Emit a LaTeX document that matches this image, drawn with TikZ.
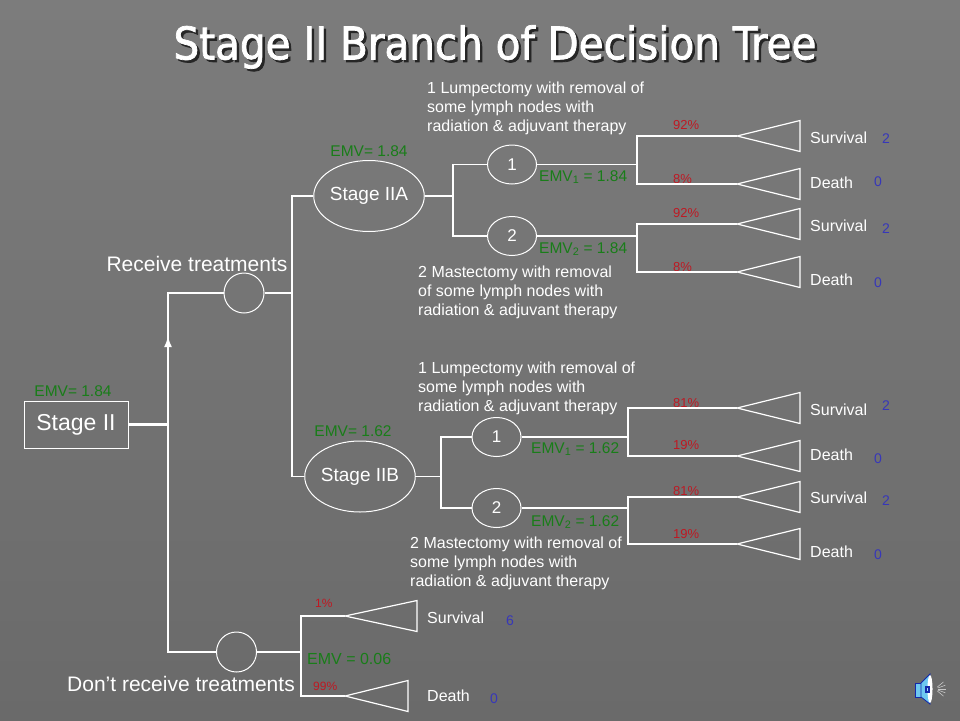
\documentclass[tikz,border=0pt]{standalone}
\usepackage{fontspec}
\setmainfont{Liberation Sans}
\newfontfamily\titlefont[FakeBold=1.6]{DejaVu Sans Condensed}
\usetikzlibrary{shapes.geometric,arrows.meta}

\definecolor{slate}{RGB}{124,124,124}
\definecolor{slatedark}{RGB}{106,106,106}
\definecolor{emvgreen}{RGB}{25,125,25}
\definecolor{pctred}{RGB}{190,25,35}
\definecolor{valblue}{RGB}{55,55,185}
\definecolor{spkblue}{RGB}{20,40,170}
\definecolor{spkcyan}{RGB}{110,200,240}

\tikzset{
  wire/.style={draw=white,line width=1.2pt},
  stagebox/.style={draw=white,line width=1pt,text=white,minimum width=104pt,minimum height=47pt,inner sep=0pt,font=\fontsize{23}{23}\selectfont},
  stageoval/.style={ellipse,draw=white,line width=1pt,text=white,minimum width=96pt,minimum height=71pt,inner sep=0pt,font=\fontsize{19}{19}\selectfont},
  choice/.style={ellipse,draw=white,line width=1pt,text=white,minimum width=49pt,minimum height=39pt,inner sep=0pt,font=\fontsize{17}{17}\selectfont},
  chance/.style={circle,draw=white,line width=1pt,minimum size=40pt,inner sep=0pt},
  emv/.style={text=emvgreen,inner sep=0pt,font=\fontsize{15.5}{15.5}\selectfont},
  pct/.style={text=pctred,inner sep=0pt,anchor=west,font=\fontsize{13}{13}\selectfont},
  val/.style={text=valblue,inner sep=0pt,anchor=west,font=\fontsize{14}{14}\selectfont},
  outcome/.style={text=white,inner sep=0pt,anchor=west,font=\fontsize{16}{16}\selectfont},
  branch/.style={text=white,inner sep=0pt,font=\fontsize{21}{21}\selectfont},
  note/.style={text=white,inner sep=0pt,anchor=north west,align=left,font=\fontsize{16}{19}\selectfont},
  headline/.style={inner sep=0pt,font=\titlefont\fontsize{45}{45}\selectfont},
}

\begin{document}
\begin{tikzpicture}[x=1pt,y=-1pt]
  \useasboundingbox (0,0) rectangle (960,720);
  \shade[top color=slate,bottom color=slatedark] (0,0) rectangle (960,720);

  % title
  \node[headline,text=black!85] (titleshadow) at (497.5,49.5) {Stage II Branch of Decision Tree};
  \node[headline,text=white] (title) at (495,47) {Stage II Branch of Decision Tree};

  % root and the two chance nodes
  \node[stagebox] (st2) at (76,424.5) {Stage II};
  \node[emv] (st2emv) at (73,391) {EMV= 1.84};
  \node[chance] (rc) at (244,293) {};
  \node[chance] (nrc) at (236.5,652) {};
  \node[branch] (rclbl) at (197,264) {Receive treatments};
  \node[branch] (nrclbl) at (181,684) {Don’t receive treatments};
  \coordinate (fork) at (168,424);
  \coordinate (tip) at (168,336);
  \draw[wire] (rc) -| (fork) |- (nrc);
  \draw[white,line width=2.5pt,-{Latex[length=11pt,width=8pt]}] (st2) -| (tip);

  % receive treatments
  \coordinate (jr) at (292,293);
  \node[stageoval] (s2a) at (369,196) {Stage IIA};
  \node[stageoval] (s2b) at (360,476.5) {Stage IIB};
  \node[emv] (s2aemv) at (369,151) {EMV= 1.84};
  \node[emv] (s2bemv) at (353,431) {EMV= 1.62};
  \draw[wire] (rc) -- (jr);
  \draw[wire] (s2a) -| (jr) |- (s2b);

  % stage IIA options
  \coordinate (ja) at (453,196);
  \node[choice] (c1a) at (512,164.5) {1};
  \node[choice] (c2a) at (512,236) {2};
  \draw[wire] (s2a) -- (ja);
  \draw[wire] (c1a) -| (ja) |- (c2a);
  \node[emv,anchor=west] (e1a) at (539,177) {EMV\textsubscript{1} = 1.84};
  \node[emv,anchor=west] (e2a) at (539,249) {EMV\textsubscript{2} = 1.84};
  \node[note] (n1a) at (427,82) {1 Lumpectomy with removal of\\some lymph nodes with\\radiation \& adjuvant therapy};
  \node[note] (n2a) at (418,266) {2 Mastectomy with removal\\of some lymph nodes with\\radiation \& adjuvant therapy};

  % stage IIB options
  \coordinate (jb) at (441,476.5);
  \node[choice] (c1b) at (496.5,437) {1};
  \node[choice] (c2b) at (496.5,508) {2};
  \draw[wire] (s2b) -- (jb);
  \draw[wire] (c1b) -| (jb) |- (c2b);
  \node[emv,anchor=west] (e1b) at (531,449) {EMV\textsubscript{1} = 1.62};
  \node[emv,anchor=west] (e2b) at (531,522) {EMV\textsubscript{2} = 1.62};
  \node[note] (n1b) at (418,362) {1 Lumpectomy with removal of\\some lymph nodes with\\radiation \& adjuvant therapy};
  \node[note] (n2b) at (410,537) {2 Mastectomy with removal of\\some lymph nodes with\\radiation \& adjuvant therapy};

  % outcomes
  \foreach \n/\y/\p/\py/\o/\oy/\v/\vx/\vy in {
      sa1/136/92/125/Survival/138/2/882/139,
      da1/184/8/179/Death/183/0/874/182,
      sa2/224/92/213/Survival/226/2/882/229,
      da2/272/8/267/Death/280/0/874/283,
      sb1/408/81/403/Survival/410/2/882/406,
      db1/456/19/445/Death/455/0/874/459,
      sb2/497/81/491/Survival/498/2/882/501,
      db2/544/19/534/Death/552/0/874/555}
  {
    \coordinate (\n) at (737,\y);
    \draw[wire] (\n) -- ++(63,-15.5) -- ++(0,31) -- cycle;
    \node[pct] (\n-p) at (673,\py) {\p\%};
    \node[outcome] (\n-o) at (810,\oy) {\o};
    \node[val] (\n-v) at (\vx,\vy) {\v};
  }
  \coordinate (ja1) at (637,164.5);
  \coordinate (ja2) at (637,236);
  \coordinate (jb1) at (628,437);
  \coordinate (jb2) at (628,508);
  \draw[wire] (c1a) -- (ja1);
  \draw[wire] (sa1) -| (ja1) |- (da1);
  \draw[wire] (c2a) -- (ja2);
  \draw[wire] (sa2) -| (ja2) |- (da2);
  \draw[wire] (c1b) -- (jb1);
  \draw[wire] (sb1) -| (jb1) |- (db1);
  \draw[wire] (c2b) -- (jb2);
  \draw[wire] (sb2) -| (jb2) |- (db2);

  % don't receive treatments
  \coordinate (jn) at (301,652);
  \coordinate (sn) at (345,616);
  \coordinate (dn) at (345,696);
  \draw[wire] (nrc) -- (jn);
  \draw[wire] (sn) -| (jn) |- (dn);
  \draw[wire] (sn) -- ++(72,-15.5) -- ++(0,31) -- cycle;
  \draw[wire] (dn) -- ++(63,-15.5) -- ++(0,31) -- cycle;
  \node[pct,font=\fontsize{12}{12}\selectfont] (sn-p) at (315,603) {1\%};
  \node[pct,font=\fontsize{12}{12}\selectfont] (dn-p) at (313,686) {99\%};
  \node[emv,anchor=west,font=\fontsize{16}{16}\selectfont] (en) at (307,659) {EMV = 0.06};
  \node[outcome] (sn-o) at (427,618) {Survival};
  \node[outcome] (dn-o) at (427,696) {Death};
  \node[val] (sn-v) at (506,621) {6};
  \node[val] (dn-v) at (490,699) {0};

  % speaker icon
  \filldraw[fill=spkcyan,draw=spkblue,line width=.8pt] (915,683) rectangle (921,697);
  \filldraw[fill=spkcyan,draw=spkblue,line width=.8pt] (921,683) -- (930,674) -- (930,704) -- (921,697) -- cycle;
  \fill[white] (930,689) ellipse (2.5 and 14);
  \draw[spkblue,line width=1.5pt] (926,687) rectangle (929,692);
  \foreach \a in {-40,-20,0,20,40}
    \draw[gray!45,line width=.6pt] (935,689) ++(\a:3) -- ++(\a:8);
\end{tikzpicture}
\end{document}
